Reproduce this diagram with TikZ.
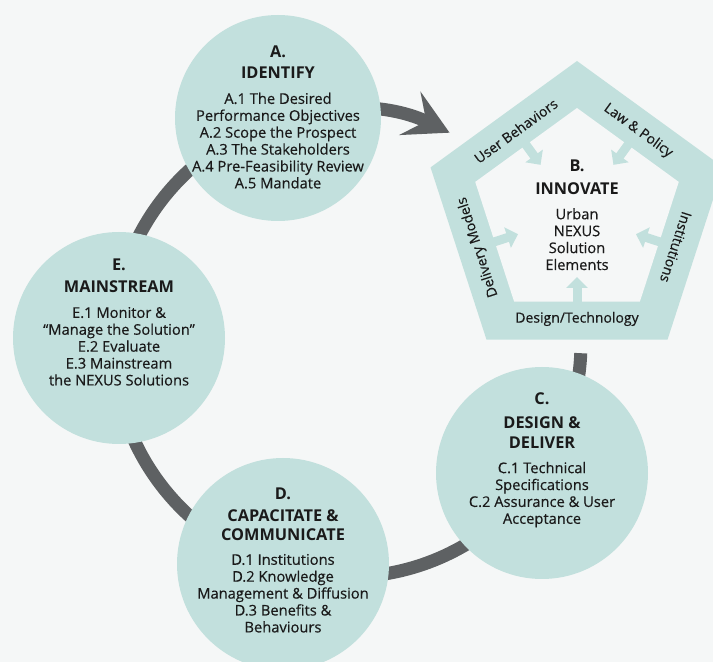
\documentclass[tikz,border=0pt]{standalone}
\usepackage{fontspec}
\setmainfont{Open Sans}
\newfontfamily\bodyfont{Open Sans}[FakeBold=0.4]
\usetikzlibrary{positioning,shapes.geometric,arrows.meta}

\definecolor{bgGray}{HTML}{F5F7F7}
\definecolor{phaseTeal}{HTML}{C2E0DD}
\definecolor{ringGray}{HTML}{5E6163}
\definecolor{inkBlack}{HTML}{1A1A1A}

\newcommand{\phasehead}[1]{{\normalfont\bfseries\fontsize{16.3}{18}\selectfont #1}}

\begin{document}
\begin{tikzpicture}[
  x=1pt, y=1pt,
  phase/.style={circle, fill=phaseTeal, minimum size=#1, inner sep=0pt},
  phase/.default=212pt,
  phase-text/.style={align=center, text=inkBlack, font=\bodyfont\fontsize{14.7}{16.9}\selectfont},
  cycle-ring/.style={draw=ringGray, line width=13pt, -{Stealth[length=44pt, width=48pt, inset=18pt]}},
  pentagon/.style={regular polygon, regular polygon sides=5, inner sep=0pt, minimum size=#1},
  band-arrow/.style={draw=phaseTeal, line width=9pt, -{Triangle[length=11pt, width=21pt]}},
  band-label/.style={text=inkBlack, font=\bodyfont\fontsize{14}{15}\selectfont}
]
  \useasboundingbox (0,0) rectangle (713,662);
  \fill[bgGray] (0,0) rectangle (713,662);
  \clip (0,0) rectangle (713,662);

  % the cycle ring behind the phases
  \coordinate (ring-center) at (347,319);
  \draw[cycle-ring] ([shift={(-2.5:234pt)}]ring-center) arc[start angle=-2.5, end angle=-296, radius=234pt];

  % B. innovate pentagon
  \node (innovate) [pentagon=308pt, fill=phaseTeal] at (577,447) {};
  \node (innovate-core) [pentagon=214pt, fill=bgGray] at (innovate.center) {};
  \foreach \ang/\rot/\txt in {126/36/User Behaviors, 54/-36/Law \& Policy, 198/108/Delivery Models,
                              342/-108/Institutions, 270/0/{Design/Technology}} {
    \draw[band-arrow] ([shift={(\ang:90pt)}]innovate.center) -- ([shift={(\ang:62pt)}]innovate.center);
    \node[band-label, rotate=\rot] at ([shift={(\ang:104pt)}]innovate.center) {\txt};
  }
  \node (innovate-text) [phase-text] at (innovate.center) {
    \phasehead{B.}\\[6pt] \phasehead{INNOVATE}\\[8pt]
    Urban\\ NEXUS\\ Solution\\ Elements
  };

  % the four circles
  \node (identify) [phase=206pt] at (278,544) {};
  \node (design-deliver) [phase] at (542,189) {};
  \node (capacitate) [phase] at (283,98) {};
  \node (mainstream) [phase] at (119,324) {};

  \node (identify-text) [phase-text] at ([yshift=1pt]identify.center) {
    \phasehead{A.}\\[5pt] \phasehead{IDENTIFY}\\[8pt]
    A.1 The Desired\\ Performance Objectives\\ A.2 Scope the Prospect\\
    A.3 The Stakeholders\\ A.4 Pre-Feasibility Review\\ A.5 Mandate
  };
  \node (design-deliver-text) [phase-text] at ([yshift=13pt]design-deliver.center) {
    \phasehead{C.}\\[7pt] \phasehead{DESIGN \&}\\[3pt] \phasehead{DELIVER}\\[8pt]
    C.1 Technical\\ Specifications\\ C.2 Assurance \& User\\ Acceptance
  };
  \node (capacitate-text) [phase-text] at ([yshift=4pt]capacitate.center) {
    \phasehead{D.}\\[6pt] \phasehead{CAPACITATE \&}\\[2pt] \phasehead{COMMUNICATE}\\[7pt]
    D.1 Institutions\\ D.2 Knowledge\\ Management \& Diffusion\\ D.3 Benefits \&\\ Behaviours
  };
  \node (mainstream-text) [phase-text] at ([yshift=16pt]mainstream.center) {
    \phasehead{E.}\\[6pt] \phasehead{MAINSTREAM}\\[8pt]
    E.1 Monitor \&\\ “Manage the Solution”\\ E.2 Evaluate\\
    E.3 Mainstream\\ the NEXUS Solutions
  };
\end{tikzpicture}
\end{document}
